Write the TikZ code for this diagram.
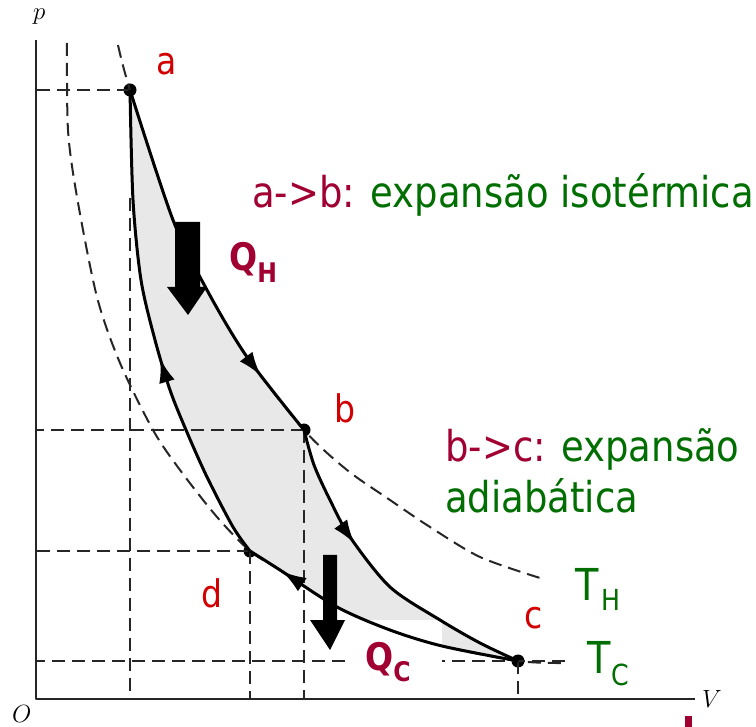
\documentclass[tikz,border=0pt]{standalone}
\usepackage{fontspec}
\setmainfont{DejaVu Sans}[FakeStretch=0.87]
\usetikzlibrary{arrows.meta,decorations.markings,positioning,calc}
\definecolor{ptred}{RGB}{210,0,0}
\definecolor{ptwine}{RGB}{160,0,50}
\definecolor{ptgreen}{RGB}{0,110,0}

\begin{document}
\begin{tikzpicture}[x=1pt,y=-1pt,line join=round,line cap=butt,
    guide/.style={black!85,line width=2.2pt,dash pattern=on 13pt off 7pt},
    axis/.style={black!85,line width=2.4pt},
    cycleline/.style={black,line width=3pt},
    midarrow/.style={postaction={decorate,decoration={markings,
        mark=at position #1 with {\arrow{Latex[length=24pt,width=16pt]}}}}},
    dot/.style={circle,fill=black,inner sep=0pt,minimum size=13pt},
    ptlabel/.style={inner sep=0pt,anchor=base west,text=ptred,font=\fontsize{38}{44}\selectfont},
    desc/.style={inner sep=0pt,anchor=base west,font=\fontsize{42.5}{50}\selectfont},
    heat/.style={inner sep=0pt,anchor=base west,text=ptwine,font=\bfseries\fontsize{38}{44}\selectfont},
    temp/.style={inner sep=0pt,anchor=base west,text=ptgreen,font=\fontsize{44}{50}\selectfont},
    axlabel/.style={inner sep=0pt,anchor=base west,font=\fontsize{26}{30}\selectfont},
    bigarrow/.style={fill=black}]
  \useasboundingbox (0,0) rectangle (756,727);

  % state points
  \coordinate (O) at (36,699);
  \node[dot] (a) at (130,90) {};
  \node[dot] (b) at (304,430) {};
  \node[dot] (c) at (518,661) {};
  \node[dot] (d) at (250,551) {};

  % shaded cycle
  \fill[gray!18]
    plot[smooth] coordinates {(a.center) (173,220) (207,290) (247,357) (b.center)}
    -- plot[smooth] coordinates {(b.center) (314,465) (330,500) (350,537) (390,587) (440,620) (480,643) (c.center)}
    -- plot[smooth] coordinates {(c.center) (442,646) (390,630) (337,607) (280,570) (d.center)}
    -- plot[smooth] coordinates {(d.center) (233,527) (207,477) (186,430) (170,390) (155,340) (141,280) (133,200) (a.center)}
    -- cycle;

  % axes
  \draw[axis] (36,40) -- (O) -- (695,699);
  \node[axlabel] (plbl) at (33,20) {$p$};
  \node[axlabel] (olbl) at (12,722) {$O$};
  \node[axlabel] (vlbl) at (702,707) {$V$};

  % guide lines
  \draw[guide] (a.center) -- (O |- a.center);
  \draw[guide] (b.center) -- (O |- b.center);
  \draw[guide] (d.center) -- (O |- d.center);
  \draw[guide] (565,661) -- (O |- c.center);
  \draw[guide] (130,198) -- (a |- O);
  \draw[guide] (d.center) -- (d |- O);
  \draw[guide] (b.center) -- (b |- O);
  \draw[guide] (c.center) -- (c |- O);

  % isotherms
  \draw[guide,line width=2pt] plot[smooth] coordinates {(118,45) (a.center) (173,220) (207,290) (247,357)
    (b.center) (347,470) (390,500) (430,527) (480,557) (540,578)};
  \draw[guide,line width=2pt] plot[smooth] coordinates {(67,43) (68,130) (77,197) (97,297) (120,363)
    (153,430) (180,470) (217,517) (d.center) (280,570) (337,607) (390,630) (442,646) (c.center) (565,663)};

  % label box
  \fill[white] (345,620) rectangle (442,690);

  % cycle
  \draw[cycleline,midarrow=0.82] plot[smooth] coordinates {(a.center) (173,220) (207,290) (247,357) (b.center)};
  \draw[cycleline,midarrow=0.38] plot[smooth] coordinates {(b.center) (314,465) (330,500) (350,537) (390,587) (440,620) (480,643) (c.center)};
  \draw[cycleline,midarrow=0.87] plot[smooth] coordinates {(c.center) (442,646) (390,630) (337,607) (280,570) (d.center)};
  \draw[cycleline,midarrow=0.44] plot[smooth] coordinates {(d.center) (233,527) (207,477) (186,430) (170,390) (155,340) (141,280) (133,200) (a.center)};

  % heat arrows
  \fill[bigarrow] (175,222) -- (200,222) -- (200,287) -- (207,287) -- (188,315) -- (167,287) -- (175,287) -- cycle;
  \fill[bigarrow] (323,555) -- (337,555) -- (337,620) -- (345,620) -- (330,650) -- (310,620) -- (323,620) -- cycle;

  % labels
  \node[ptlabel] (alb) at (156,75) {a};
  \node[ptlabel] (blb) at (334,423) {b};
  \node[ptlabel] (clb) at (524,628) {c};
  \node[ptlabel] (dlb) at (201,608) {d};
  \node[desc] (ab) at (252,208) {\textcolor{ptwine}{a->b:} \textcolor{ptgreen}{expansão isotérmica}};
  \node[desc] (bc) at (445,462) {\textcolor{ptwine}{b->c:} \textcolor{ptgreen}{expansão}};
  \node[desc,text=ptgreen] (bc2) at (445,513) {adiabática};
  \node[heat] (qh) at (229,271) {Q\raisebox{-12pt}{\fontsize{27}{30}\selectfont H}};
  \node[heat] (qc) at (365,670) {Q\raisebox{-12pt}{\fontsize{27}{30}\selectfont C}};
  \node[temp] (th) at (575,600) {T\kern3pt\raisebox{-10pt}{\fontsize{29}{30}\selectfont H}};
  \node[temp] (tc) at (587,673) {T\kern1pt\raisebox{-12pt}{\fontsize{29}{30}\selectfont C}};

  % slide mark
  \fill[ptwine] (685,716) rectangle (692,727);
\end{tikzpicture}
\end{document}
